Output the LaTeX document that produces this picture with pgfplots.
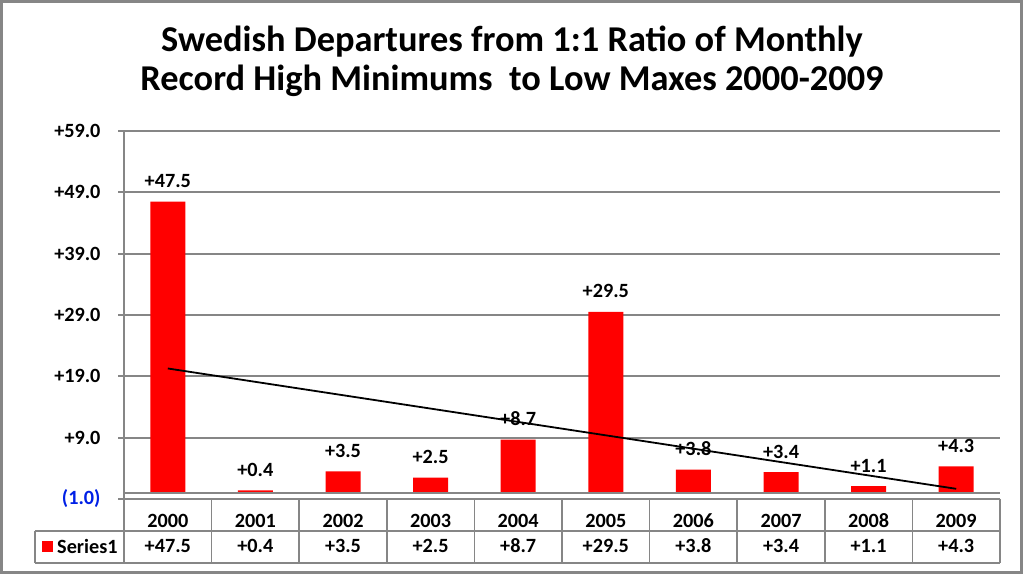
\documentclass[border=0pt]{standalone}
\usepackage{fontspec}
\setmainfont{Carlito}
\usepackage{pgfplots}
\usepackage{pgfplotstable}
\pgfplotsset{compat=1.18}
\definecolor{gridgray}{RGB}{134,134,134}
\definecolor{barred}{RGB}{255,0,0}
\definecolor{labblue}{RGB}{0,32,230}
\pgfplotstableread{
x year val
0 2000 47.5
1 2001 0.4
2 2002 3.5
3 2003 2.5
4 2004 8.7
5 2005 29.5
6 2006 3.8
7 2007 3.4
8 2008 1.1
9 2009 4.3
}\datatable
\newcommand{\lbl}{\bfseries\fontsize{20.3}{20.3}\selectfont}
\begin{document}
\begin{tikzpicture}[x=1bp,y=1bp]
\useasboundingbox (0,0) rectangle (1024,574);
\draw[gridgray, line width=2.5bp] (1.5,1.5) rectangle (1021.5,572.5);
\node[font=\bfseries\fontsize{36.5}{39}\selectfont, align=center] at (512,513)
  {Swedish Departures from 1:1 Ratio of Monthly\\Record High Minimums\ \ to Low Maxes 2000-2009};
\begin{axis}[
  at={(124bp,75bp)}, anchor=south west,
  scale only axis, width=876bp, height=368bp,
  xmin=-0.5, xmax=9.5, ymin=-1, ymax=59,
  clip=false,
  axis line style={draw=none},
  /pgf/number format/assume math mode=true,
  ytick={-1,9,19,29,39,49,59},
  yticklabels={{\textcolor{labblue}{(1.0)}},+9.0,+19.0,+29.0,+39.0,+49.0,+59.0},
  ytick pos=left, tick align=outside, major tick length=6bp,
  y tick style={gridgray, line width=1.7bp},
  xtick={0,...,9},
  xticklabels={2000,2001,2002,2003,2004,2005,2006,2007,2008,2009},
  x tick style={draw=none},
  ymajorgrids, major grid style={gridgray, line width=1.7bp},
  tick label style={font=\lbl, text=black},
  yticklabel style={xshift=-14bp},
  xticklabel style={anchor=center, yshift=-16bp},
]
\addplot[ybar, bar width=35bp, bar shift=0pt, fill=barred, draw=none,
  nodes near coords={+\pgfmathprintnumber[fixed,fixed zerofill,precision=1]{\pgfplotspointmeta}},
  every node near coord/.style={font=\lbl, anchor=base, yshift=14bp, text=black},
  point meta=y]
  table[x=x, y=val] {\datatable};
\addplot[draw=none, mark=none,
  nodes near coords={+\pgfmathprintnumber[fixed,fixed zerofill,precision=1]{\pgfplotspointmeta}},
  every node near coord/.style={font=\lbl, anchor=center, yshift=-47bp, text=black},
  point meta={\thisrow{val}}]
  table[x=x, y expr=-1] {\datatable};
\addplot[black, line width=1.8bp, mark=none] coordinates {(0,20.28) (9,0.66)};
\draw[gridgray, line width=1.7bp] (axis cs:-0.5,-1) -- (axis cs:-0.5,59);
\draw[gridgray, line width=1.7bp] (axis cs:-0.5,0) -- (axis cs:9.5,0);
\end{axis}
\draw[gridgray, line width=1.7bp] (35,43) -- (1000,43);
\draw[gridgray, line width=1.7bp] (35,11) -- (1000,11);
\draw[gridgray, line width=1.7bp] (35,43) -- (35,11);
\foreach \k in {0,...,10} {
  \draw[gridgray, line width=1.7bp] ({124+87.6*\k},75) -- ({124+87.6*\k},11);
}
\fill[barred] (42,22) rectangle (53,33);
\node[font=\lbl, anchor=west, inner sep=0pt] at (57,27.5) {Series1};
\end{tikzpicture}
\end{document}
